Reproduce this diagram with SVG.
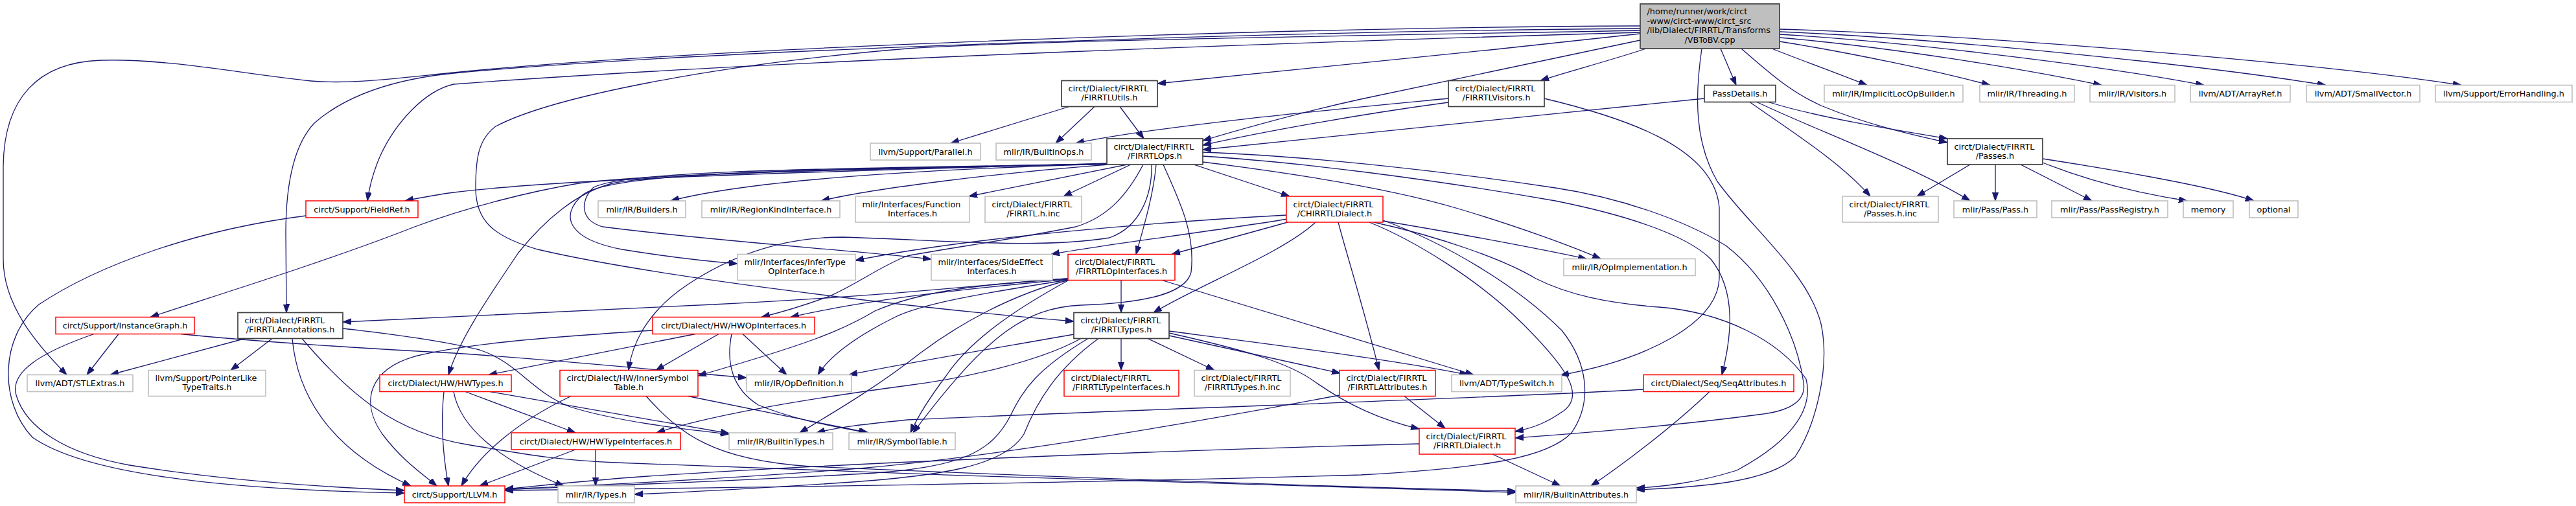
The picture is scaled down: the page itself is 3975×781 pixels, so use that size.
<svg xmlns="http://www.w3.org/2000/svg" width="3975" height="781" viewBox="0 0 3975 781">
<style>
.e{fill:none;stroke:#191970;stroke-width:1.3;marker-end:url(#ah)}
.nb rect{fill:#fff;stroke:#404040;stroke-width:1.7}
.ng rect{fill:#fff;stroke:#bfbfbf;stroke-width:1.6}
.nr rect{fill:#fff;stroke:#ff0000;stroke-width:1.5}
.rt rect{fill:#bfbfbf;stroke:#404040;stroke-width:1.7}
text{font-family:"DejaVu Sans",sans-serif;font-size:12.8px;fill:#000}
.m{text-anchor:middle}
</style>
<defs>
<marker id="ah" markerWidth="14" markerHeight="10" refX="13" refY="4.65" orient="auto" markerUnits="userSpaceOnUse">
<path d="M0,0 L13,4.65 L0,9.3 z" fill="#191970" stroke="#191970" stroke-width="1"/>
</marker>
</defs>
<rect x="0" y="0" width="3975" height="781" fill="#fff"/>
<g id="edges">
<path class="e" d="M2531,52 C2280,80 2000,108 1786,129"/>
<path class="e" d="M2540,75 C2480,95 2420,110 2377,124.5"/>
<path class="e" d="M2655,75 L2679,131.5"/>
<path class="e" d="M2531,62 C2380,94 2230,125 2100,153 C2000,175 1920,198 1856,217"/>
<path class="e" d="M2734,75 C2785,95 2845,117 2881,131.5"/>
<path class="e" d="M2746,64 C2860,82 2990,110 3071,131.5"/>
<path class="e" d="M2746,58 C2910,72 3110,104 3243,131.5"/>
<path class="e" d="M2746,53 C2960,66 3260,104 3401,131.5"/>
<path class="e" d="M2746,49 C3010,60 3410,102 3589,131.5"/>
<path class="e" d="M2746,45 C3110,56 3610,102 3798,131.5"/>
<path class="e" d="M2687,75 C2730,112 2760,140 2810,163 C2880,192 2950,208 3005,220"/>
<path class="e" d="M2531,40 C2000,42 1100,72 700,112 C600,122 540,130 480,125 C380,115 260,90 156,93 C60,96 5,150 5,260 L5,400 C5,470 55,530 103,578.5"/>
<path class="e" d="M2531,44 C2000,48 1100,76 700,113 C620,121 540,142 485,190 C452,225 441,290 441,360 L442,482.5"/>
<path class="e" d="M2531,50 C2100,62 1200,92 700,130 C655,140 610,190 587,240 C576,265 570,288 567,310"/>
<path class="e" d="M2531,47 C2100,55 1600,62 1400,75 C1100,100 850,150 765,195 C738,215 734,245 734,290 C734,340 760,365 830,385 C1000,425 1400,475 1657,496"/>
<path class="e" d="M2626,75 C2615,150 2615,220 2650,280 C2700,350 2790,420 2810,500 C2825,570 2800,660 2770,705 C2730,745 2620,752 2525,756"/>
<path class="e" d="M1650,164.5 L1467,221"/>
<path class="e" d="M1689,164.5 L1629,221"/>
<path class="e" d="M1728,164.5 L1765,214"/>
<path class="e" d="M2235,152 C2100,165 1800,192 1660,221"/>
<path class="e" d="M2235,158 C2100,176 1950,203 1856,224"/>
<path class="e" d="M2383,152 C2500,180 2645,225 2653,320 L2653,430 C2650,500 2540,555 2408,579"/>
<path class="e" d="M2630,152 C2350,180 2000,218 1856,231"/>
<path class="e" d="M2729,157.5 C2800,180 2920,200 3005,214"/>
<path class="e" d="M2700,157.5 C2760,200 2840,250 2886,303"/>
<path class="e" d="M2711,157.5 C2800,200 2950,255 3040,310"/>
<path class="e" d="M3040,254 L2958,303"/>
<path class="e" d="M3079,254 L3079,310"/>
<path class="e" d="M3118,254 L3228,310"/>
<path class="e" d="M3152,251 C3230,282 3310,300 3375,310"/>
<path class="e" d="M3152,245 C3300,268 3420,290 3478,310"/>
<path class="e" d="M1710,252 C1400,262 900,272 700,297 C670,301 645,306 625,310"/>
<path class="e" d="M1710,253 C1400,262 1150,280 1035,310"/>
<path class="e" d="M1710,254 C1550,266 1350,290 1267,310"/>
<path class="e" d="M1739,254 L1495,303"/>
<path class="e" d="M1745,254 L1641,303"/>
<path class="e" d="M1842,254 L1990,303"/>
<path class="e" d="M1710,253 C1300,262 950,262 900,300 C860,335 880,370 960,385 C1040,398 1100,404 1138,407"/>
<path class="e" d="M1710,253 C1300,260 960,262 915,290 C895,310 895,340 930,350 C1100,372 1300,385 1437,400"/>
<path class="e" d="M1784,254 C1780,300 1765,350 1753,392.5"/>
<path class="e" d="M1856,250 C2000,268 2150,292 2250,322 C2350,352 2430,382 2470,399.5"/>
<path class="e" d="M1856,235 C2000,240 2200,260 2400,290 C2500,305 2600,340 2663,379 C2730,430 2773,520 2783,590 C2788,620 2760,635 2713,640 C2600,655 2450,668 2338,676"/>
<path class="e" d="M1856,241 C2000,250 2200,275 2400,310 C2500,330 2600,360 2640,400 C2680,450 2672,520 2657,578.5"/>
<path class="e" d="M1710,253 C1300,262 1000,268 893,283 C820,295 720,320 640,350 C500,405 320,460 232,489.5"/>
<path class="e" d="M1764,254 C1740,300 1710,335 1660,350 C1560,370 1450,385 1400,395 C1360,410 1320,440 1280,457 C1240,472 1205,482 1175,489.5"/>
<path class="e" d="M1777,254 C1778,300 1760,350 1712,367 C1600,385 1450,370 1300,366 C1200,366 1120,400 1060,440 C1000,480 975,530 970,571.5"/>
<path class="e" d="M1795,254 C1820,310 1845,360 1838,420 C1830,455 1760,468 1668,471 C1580,475 1520,520 1409,668"/>
<path class="e" d="M1710,253 C1300,260 1000,270 945,283 C890,297 840,340 800,390 C760,450 710,520 692,578.5"/>
<path class="e" d="M1985,332 C1800,342 1500,365 1320,402"/>
<path class="e" d="M1987,338 C1850,360 1700,378 1622,392.5"/>
<path class="e" d="M1987,343 L1808,392.5"/>
<path class="e" d="M2030,343 C1980,390 1850,440 1780,482.5"/>
<path class="e" d="M2065,343 C2080,400 2100,460 2128,571.5"/>
<path class="e" d="M2134,341 C2250,360 2380,385 2448,399.5"/>
<path class="e" d="M2113,343 C2180,370 2280,430 2350,500 C2420,570 2445,610 2413,634 C2390,650 2370,660 2338,666"/>
<path class="e" d="M2134,340 C2230,375 2340,440 2410,510 C2450,560 2458,620 2425,668 C2390,705 2300,722 2100,733 C1700,745 1200,752 779,757"/>
<path class="e" d="M2120,343 C2220,365 2320,400 2370,430 C2420,455 2480,468 2560,474 C2660,482 2745,525 2787,585 C2797,625 2775,675 2680,726 C2620,745 2560,752 2525,753"/>
<path class="e" d="M1730,432.5 L1730,482.5"/>
<path class="e" d="M1793,432.5 L2274,578.5"/>
<path class="e" d="M1648,430 C1500,440 1400,455 1100,470 C900,480 700,490 529,497"/>
<path class="e" d="M1648,431 C1500,445 1350,460 1220,489.5"/>
<path class="e" d="M1648,430 C1500,440 1420,450 1350,480 C1300,510 1250,530 1077,580"/>
<path class="e" d="M1648,432 C1500,455 1420,470 1380,490 C1320,520 1280,550 1262,578.5"/>
<path class="e" d="M1650,432 C1580,470 1500,520 1460,580 C1430,620 1415,645 1405,668"/>
<path class="e" d="M1650,432 C1560,455 1480,500 1420,545 C1350,600 1280,640 1234,668"/>
<path class="e" d="M1730,522.5 L1730,571.5"/>
<path class="e" d="M1771,522.5 L1874,571.5"/>
<path class="e" d="M1804,518 L2068,576"/>
<path class="e" d="M1804,514 C1920,540 1990,560 2030,590 C2080,625 2130,648 2190,662"/>
<path class="e" d="M1804,511 C1950,530 2150,555 2265,578.5"/>
<path class="e" d="M1657,516 C1550,535 1400,560 1310,578.5"/>
<path class="e" d="M1668,522.5 C1600,560 1480,585 1400,595 C1250,615 1100,640 1013,668"/>
<path class="e" d="M1679,522.5 C1600,570 1580,600 1560,640 C1530,700 1480,720 1350,730 C1100,745 900,750 779,756"/>
<path class="e" d="M1695,522.5 C1630,570 1600,620 1580,670 C1550,720 1450,735 1300,745 C1150,755 1050,760 979,763"/>
<path class="e" d="M378,522.5 L170,578.5"/>
<path class="e" d="M420,522.5 L356,571.5"/>
<path class="e" d="M451,522.5 C458,600 500,690 634,750"/>
<path class="e" d="M466,522.5 C540,610 610,668 720,686 C800,699 850,710 950,714 C1400,732 2000,752 2339,760"/>
<path class="e" d="M529,507 C600,515 680,525 740,540 C800,560 820,605 880,628 C950,650 1050,662 1125,670"/>
<path class="e" d="M183,515.5 L134,578.5"/>
<path class="e" d="M145,515.5 C60,545 15,575 25,610 C40,660 100,700 200,718 C350,742 500,752 624,757"/>
<path class="e" d="M279,515.5 C400,528 600,540 700,545 C850,555 1000,570 1152,583"/>
<path class="e" d="M472,333 C300,355 150,410 60,470 C0,520 -2,620 50,675 C150,745 450,758 624,761"/>
<path class="e" d="M1073,515.5 L754,578.5"/>
<path class="e" d="M1109,515.5 L1012,571.5"/>
<path class="e" d="M1146,515.5 L1214,578.5"/>
<path class="e" d="M1129,515.5 C1120,560 1130,600 1170,625 C1230,650 1300,660 1338,668"/>
<path class="e" d="M1007,510 C850,520 720,530 640,550 C570,570 555,620 590,670 C620,710 650,730 674,750"/>
<path class="e" d="M685,604.5 C680,650 683,700 692,750"/>
<path class="e" d="M718,604.5 L888,668"/>
<path class="e" d="M756,604.5 C900,630 1050,655 1125,669"/>
<path class="e" d="M700,604.5 C710,660 770,710 870,750"/>
<path class="e" d="M881,611.5 C800,650 740,700 712,750"/>
<path class="e" d="M1062,611.5 L1340,668"/>
<path class="e" d="M997,611.5 C1050,670 1100,710 1250,720 C1600,735 2000,750 2339,758"/>
<path class="e" d="M888,694 L740,750"/>
<path class="e" d="M919,694 L919,750"/>
<path class="e" d="M2167,611.5 L2230,661"/>
<path class="e" d="M2067,610 C1800,660 1500,710 1300,725 C1100,740 900,750 779,755"/>
<path class="e" d="M2303,701 L2408,750"/>
<path class="e" d="M2190,685 C1800,695 1300,715 1000,735 C900,742 830,750 779,755"/>
<path class="e" d="M2638,604.5 C2580,660 2500,720 2455,750"/>
<path class="e" d="M2536,601 C2300,615 1800,630 1400,648 C1330,655 1290,660 1260,668"/>
</g>
<g id="n0" class="rt"><rect x="2531" y="6" width="215" height="69"/><text x="2541.5" y="22">/home/runner/work/circt</text><text x="2541.5" y="36.5">-www/circt-www/circt_src</text><text x="2541.5" y="51">/lib/Dialect/FIRRTL/Transforms</text><text class="m" x="2638.5" y="65.5">/VBToBV.cpp</text></g>
<g id="n1" class="nb"><rect x="1638" y="124.5" width="148" height="40"/><text x="1648.5" y="141.2">circt/Dialect/FIRRTL</text><text class="m" x="1712" y="155.3">/FIRRTLUtils.h</text></g>
<g id="n2" class="nb"><rect x="2235" y="124.5" width="148" height="40"/><text x="2245.5" y="141.2">circt/Dialect/FIRRTL</text><text class="m" x="2309" y="155.3">/FIRRTLVisitors.h</text></g>
<g id="n3" class="nb"><rect x="2630" y="131.5" width="110" height="26"/><text class="m" x="2685" y="149.1">PassDetails.h</text></g>
<g id="n4" class="ng"><rect x="2815" y="131.5" width="214" height="26"/><text class="m" x="2922" y="149.1">mlir/IR/ImplicitLocOpBuilder.h</text></g>
<g id="n5" class="ng"><rect x="3055" y="131.5" width="146" height="26"/><text class="m" x="3128" y="149.1">mlir/IR/Threading.h</text></g>
<g id="n6" class="ng"><rect x="3225" y="131.5" width="131" height="26"/><text class="m" x="3290.5" y="149.1">mlir/IR/Visitors.h</text></g>
<g id="n7" class="ng"><rect x="3380" y="131.5" width="154" height="26"/><text class="m" x="3457" y="149.1">llvm/ADT/ArrayRef.h</text></g>
<g id="n8" class="ng"><rect x="3559" y="131.5" width="175" height="26"/><text class="m" x="3646.5" y="149.1">llvm/ADT/SmallVector.h</text></g>
<g id="n9" class="ng"><rect x="3758" y="131.5" width="211" height="26"/><text class="m" x="3863.5" y="149.1">llvm/Support/ErrorHandling.h</text></g>
<g id="n10" class="ng"><rect x="1343" y="221" width="170" height="26"/><text class="m" x="1428" y="238.6">llvm/Support/Parallel.h</text></g>
<g id="n11" class="ng"><rect x="1537" y="221" width="147" height="26"/><text class="m" x="1610.5" y="238.6">mlir/IR/BuiltinOps.h</text></g>
<g id="n12" class="nb"><rect x="1708" y="214" width="148" height="40"/><text x="1718.5" y="230.7">circt/Dialect/FIRRTL</text><text class="m" x="1782" y="244.8">/FIRRTLOps.h</text></g>
<g id="n13" class="nb"><rect x="3005" y="214" width="147" height="40"/><text x="3015.5" y="230.7">circt/Dialect/FIRRTL</text><text class="m" x="3078.5" y="244.8">/Passes.h</text></g>
<g id="n14" class="nr"><rect x="472" y="310" width="173" height="26"/><text class="m" x="558.5" y="327.6">circt/Support/FieldRef.h</text></g>
<g id="n15" class="ng"><rect x="923" y="310" width="135" height="26"/><text class="m" x="990.5" y="327.6">mlir/IR/Builders.h</text></g>
<g id="n16" class="ng"><rect x="1083" y="310" width="213" height="26"/><text class="m" x="1189.5" y="327.6">mlir/IR/RegionKindInterface.h</text></g>
<g id="n17" class="ng"><rect x="1320" y="303" width="176" height="40"/><text x="1330.5" y="319.7">mlir/Interfaces/Function</text><text class="m" x="1408" y="333.8">Interfaces.h</text></g>
<g id="n18" class="ng"><rect x="1520" y="303" width="149" height="40"/><text x="1530.5" y="319.7">circt/Dialect/FIRRTL</text><text class="m" x="1594.5" y="333.8">/FIRRTL.h.inc</text></g>
<g id="n19" class="nr"><rect x="1985" y="303" width="149" height="40"/><text x="1995.5" y="319.7">circt/Dialect/FIRRTL</text><text class="m" x="2059.5" y="333.8">/CHIRRTLDialect.h</text></g>
<g id="n20" class="ng"><rect x="2843" y="303" width="148" height="40"/><text x="2853.5" y="319.7">circt/Dialect/FIRRTL</text><text class="m" x="2917" y="333.8">/Passes.h.inc</text></g>
<g id="n21" class="ng"><rect x="3015" y="310" width="128" height="26"/><text class="m" x="3079" y="327.6">mlir/Pass/Pass.h</text></g>
<g id="n22" class="ng"><rect x="3166" y="310" width="179" height="26"/><text class="m" x="3255.5" y="327.6">mlir/Pass/PassRegistry.h</text></g>
<g id="n23" class="ng"><rect x="3369" y="310" width="77" height="26"/><text class="m" x="3407.5" y="327.6">memory</text></g>
<g id="n24" class="ng"><rect x="3471" y="310" width="75" height="26"/><text class="m" x="3508.5" y="327.6">optional</text></g>
<g id="n25" class="ng"><rect x="1138" y="392.5" width="182" height="40"/><text x="1148.5" y="409.2">mlir/Interfaces/InferType</text><text class="m" x="1229" y="423.3">OpInterface.h</text></g>
<g id="n26" class="ng"><rect x="1437" y="392.5" width="187" height="40"/><text x="1447.5" y="409.2">mlir/Interfaces/SideEffect</text><text class="m" x="1530.5" y="423.3">Interfaces.h</text></g>
<g id="n27" class="nr"><rect x="1648" y="392.5" width="165" height="40"/><text x="1658.5" y="409.2">circt/Dialect/FIRRTL</text><text class="m" x="1730.5" y="423.3">/FIRRTLOpInterfaces.h</text></g>
<g id="n28" class="ng"><rect x="2413" y="399.5" width="203" height="26"/><text class="m" x="2514.5" y="417.1">mlir/IR/OpImplementation.h</text></g>
<g id="n29" class="nr"><rect x="86" y="489.5" width="214" height="26"/><text class="m" x="193" y="507.1">circt/Support/InstanceGraph.h</text></g>
<g id="n30" class="nb"><rect x="367" y="482.5" width="162" height="40"/><text x="377.5" y="499.2">circt/Dialect/FIRRTL</text><text class="m" x="448" y="513.3">/FIRRTLAnnotations.h</text></g>
<g id="n31" class="nr"><rect x="1007" y="489.5" width="250" height="26"/><text class="m" x="1132" y="507.1">circt/Dialect/HW/HWOpInterfaces.h</text></g>
<g id="n32" class="nb"><rect x="1657" y="482.5" width="147" height="40"/><text x="1667.5" y="499.2">circt/Dialect/FIRRTL</text><text class="m" x="1730.5" y="513.3">/FIRRTLTypes.h</text></g>
<g id="n33" class="ng"><rect x="42" y="578.5" width="163" height="26"/><text class="m" x="123.5" y="596.1">llvm/ADT/STLExtras.h</text></g>
<g id="n34" class="ng"><rect x="229" y="571.5" width="181" height="40"/><text x="239.5" y="588.2">llvm/Support/PointerLike</text><text class="m" x="319.5" y="602.3">TypeTraits.h</text></g>
<g id="n35" class="nr"><rect x="586" y="578.5" width="203" height="26"/><text class="m" x="687.5" y="596.1">circt/Dialect/HW/HWTypes.h</text></g>
<g id="n36" class="nr"><rect x="864" y="571.5" width="213" height="40"/><text x="874.5" y="588.2">circt/Dialect/HW/InnerSymbol</text><text class="m" x="970.5" y="602.3">Table.h</text></g>
<g id="n37" class="ng"><rect x="1152" y="578.5" width="162" height="26"/><text class="m" x="1233" y="596.1">mlir/IR/OpDefinition.h</text></g>
<g id="n38" class="nr"><rect x="1642" y="571.5" width="177" height="40"/><text x="1652.5" y="588.2">circt/Dialect/FIRRTL</text><text class="m" x="1730.5" y="602.3">/FIRRTLTypeInterfaces.h</text></g>
<g id="n39" class="ng"><rect x="1843" y="571.5" width="148" height="40"/><text x="1853.5" y="588.2">circt/Dialect/FIRRTL</text><text class="m" x="1917" y="602.3">/FIRRTLTypes.h.inc</text></g>
<g id="n40" class="nr"><rect x="2067" y="571.5" width="148" height="40"/><text x="2077.5" y="588.2">circt/Dialect/FIRRTL</text><text class="m" x="2141" y="602.3">/FIRRTLAttributes.h</text></g>
<g id="n41" class="ng"><rect x="2240" y="578.5" width="170" height="26"/><text class="m" x="2325" y="596.1">llvm/ADT/TypeSwitch.h</text></g>
<g id="n42" class="nr"><rect x="2536" y="578.5" width="232" height="26"/><text class="m" x="2652" y="596.1">circt/Dialect/Seq/SeqAttributes.h</text></g>
<g id="n43" class="nr"><rect x="789" y="668" width="261" height="26"/><text class="m" x="919.5" y="685.6">circt/Dialect/HW/HWTypeInterfaces.h</text></g>
<g id="n44" class="ng"><rect x="1125" y="668" width="160" height="26"/><text class="m" x="1205" y="685.6">mlir/IR/BuiltinTypes.h</text></g>
<g id="n45" class="ng"><rect x="1310" y="668" width="164" height="26"/><text class="m" x="1392" y="685.6">mlir/IR/SymbolTable.h</text></g>
<g id="n46" class="nr"><rect x="2190" y="661" width="148" height="40"/><text x="2200.5" y="677.7">circt/Dialect/FIRRTL</text><text class="m" x="2264" y="691.8">/FIRRTLDialect.h</text></g>
<g id="n47" class="nr"><rect x="624" y="750" width="155" height="26"/><text class="m" x="701.5" y="767.6">circt/Support/LLVM.h</text></g>
<g id="n48" class="ng"><rect x="861" y="750" width="118" height="26"/><text class="m" x="920" y="767.6">mlir/IR/Types.h</text></g>
<g id="n49" class="ng"><rect x="2339" y="750" width="186" height="26"/><text class="m" x="2432" y="767.6">mlir/IR/BuiltinAttributes.h</text></g>
</svg>
